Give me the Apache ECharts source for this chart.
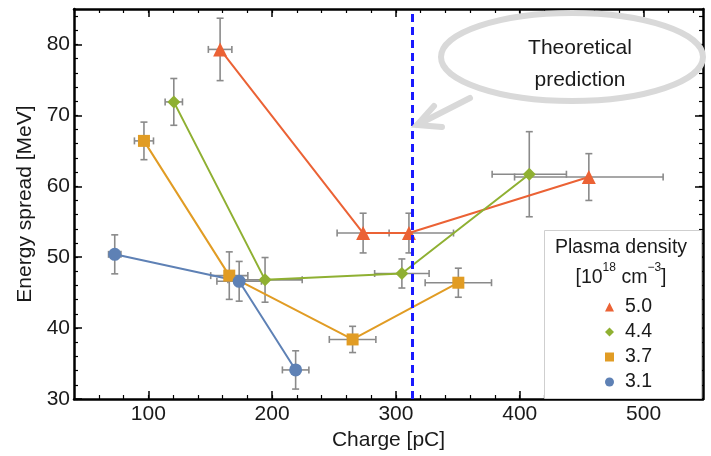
<!DOCTYPE html>
<html>
<head>
<meta charset="utf-8">
<script src="https://cdn.jsdelivr.net/npm/echarts@6/dist/echarts.min.js"></script>
<style>
  html, body { margin: 0; padding: 0; background: #fff; }
  #chart { width: 711px; height: 456px; }
</style>
</head>
<body>
<div id="chart"></div>
<script>
// Energy spread vs. bunch charge for four plasma densities (10^18 cm^-3)
const densityLabels = ['5.0', '4.4', '3.7', '3.1'];

const charge31 = [72.9, 173.4, 219.0];
const spread31 = [50.4, 46.6, 34.1];
const chargeErr31 = [5, 18, 10.7];
const spreadErr31 = [2.75, 2.8, 2.7];

const charge37 = [96.5, 165.4, 265.0, 350.4];
const spread37 = [66.4, 47.4, 38.4, 46.4];
const chargeErr37 = [7.7, 15, 18.8, 26.8];
const spreadErr37 = [2.65, 3.35, 1.85, 2.05];

const charge44 = [120.6, 194.3, 304.8, 407.7];
const spread44 = [71.9, 46.8, 47.7, 61.7];
const chargeErr44 = [7, 30, 22, 30];
const spreadErr44 = [3.3, 3.15, 2.05, 6.0];

const charge50 = [158.0, 273.5, 310.5, 455.8];
const spread50 = [79.3, 53.4, 53.4, 61.3];
const chargeErr50 = [9.5, 21, 36, 60];
const spreadErr50 = [4.4, 2.8, 2.8, 3.3];

// Predicted optimal charge
const theoryCharge = 313;

const xMajorTicks = [100, 200, 300, 400, 500];
const yMajorTicks = [30, 40, 50, 60, 70, 80];

const colors = {
  '5.0': '#EB6235',
  '4.4': '#8FB032',
  '3.7': '#E19C24',
  '3.1': '#5E81B5'
};
const symbols = { '5.0': 'triangle', '4.4': 'diamond', '3.7': 'rect', '3.1': 'circle' };
const symbolSizes = { '5.0': 14, '4.4': 13, '3.7': 12, '3.1': 13 };
const legendIconSizes = { '5.0': 9, '4.4': 9, '3.7': 7, '3.1': 9 };

const groups = {
  '5.0': [charge50, spread50, chargeErr50, spreadErr50],
  '4.4': [charge44, spread44, chargeErr44, spreadErr44],
  '3.7': [charge37, spread37, chargeErr37, spreadErr37],
  '3.1': [charge31, spread31, chargeErr31, spreadErr31]
};

const FONT = '"Liberation Sans", Arial, sans-serif';
const INK = '#1a1a1a';

function errorBarItem(params, api) {
  const x = api.value(0), y = api.value(1), ex = api.value(2), ey = api.value(3);
  const l = api.coord([x - ex, y]);
  const r = api.coord([x + ex, y]);
  const t = api.coord([x, y + ey]);
  const b = api.coord([x, y - ey]);
  const cap = 3.5;
  const style = { stroke: '#8a8a8a', lineWidth: 1.6 };
  const seg = (x1, y1, x2, y2) => ({ type: 'line', shape: { x1, y1, x2, y2 }, style });
  return {
    type: 'group',
    children: [
      seg(l[0], l[1], r[0], r[1]),
      seg(l[0], l[1] - cap, l[0], l[1] + cap),
      seg(r[0], r[1] - cap, r[0], r[1] + cap),
      seg(t[0], t[1], b[0], b[1]),
      seg(t[0] - cap, t[1], t[0] + cap, t[1]),
      seg(b[0] - cap, b[1], b[0] + cap, b[1])
    ]
  };
}

const series = [];
densityLabels.forEach(name => {
  const [xs, ys, exs, eys] = groups[name];
  series.push({
    name: name + ' err',
    type: 'custom',
    renderItem: errorBarItem,
    data: xs.map((x, i) => [x, ys[i], exs[i], eys[i]]),
    clip: true,
    z: 2,
    silent: true
  });
});
densityLabels.forEach(name => {
  const [xs, ys] = groups[name];
  const s = {
    name: name,
    type: 'line',
    data: xs.map((x, i) => [x, ys[i]]),
    symbol: symbols[name],
    symbolSize: symbolSizes[name],
    showAllSymbol: true,
    itemStyle: { color: colors[name], opacity: 1 },
    lineStyle: { color: colors[name], width: 2 },
    z: 3
  };
  if (name === '5.0') {
    s.markLine = {
      silent: true,
      symbol: ['none', 'none'],
      label: { show: false },
      lineStyle: { color: '#1a1aff', width: 3, type: [8, 5] },
      data: [{ xAxis: theoryCharge }]
    };
  }
  series.push(s);
});

const frameLine = { show: true, lineStyle: { color: '#000', width: 2.5 } };
const minorTick = { show: true, inside: true, length: 4, lineStyle: { color: '#000', width: 1.2 } };
const majorTick = (vals) => ({ show: true, inside: true, length: 8, customValues: vals, lineStyle: { color: '#000', width: 1.5 } });
const noLabel = { show: false };

const xBase = { type: 'value', min: 40, max: 548, splitLine: { show: false } };
const yBase = { type: 'value', min: 30, max: 85, splitLine: { show: false } };

const option = {
  animation: false,
  backgroundColor: '#fff',
  textStyle: { fontFamily: FONT },
  grid: { left: 74, right: 8, top: 9, bottom: 57 },
  xAxis: [
    Object.assign({}, xBase, {
      position: 'bottom', interval: 20,
      axisLine: frameLine, axisTick: minorTick,
      axisLabel: {
        formatter: v => (v % 100 === 0 ? String(v) : ''),
        fontSize: 21, color: INK, margin: 5, fontFamily: FONT,
        showMinLabel: false, showMaxLabel: false
      },
      name: 'Charge [pC]', nameLocation: 'middle', nameGap: 30,
      nameTextStyle: { fontSize: 21, color: INK, fontFamily: FONT }
    }),
    Object.assign({}, xBase, { position: 'bottom', axisLine: { show: false }, axisTick: majorTick(xMajorTicks), axisLabel: noLabel }),
    Object.assign({}, xBase, { position: 'top', interval: 20, axisLine: frameLine, axisTick: minorTick, axisLabel: noLabel }),
    Object.assign({}, xBase, { position: 'top', axisLine: { show: false }, axisTick: majorTick(xMajorTicks), axisLabel: noLabel })
  ],
  yAxis: [
    Object.assign({}, yBase, {
      position: 'left', interval: 2,
      axisLine: frameLine, axisTick: minorTick,
      axisLabel: {
        formatter: v => (v % 10 === 0 ? String(v) : ''),
        fontSize: 21, color: INK, margin: 4, fontFamily: FONT,
        showMaxLabel: false
      },
      name: 'Energy spread [MeV]', nameLocation: 'middle', nameGap: 32,
      nameTextStyle: { fontSize: 21, color: INK, fontFamily: FONT }
    }),
    Object.assign({}, yBase, { position: 'left', axisLine: { show: false }, axisTick: majorTick(yMajorTicks), axisLabel: noLabel }),
    Object.assign({}, yBase, { position: 'right', interval: 2, axisLine: frameLine, axisTick: minorTick, axisLabel: noLabel }),
    Object.assign({}, yBase, { position: 'right', axisLine: { show: false }, axisTick: majorTick(yMajorTicks), axisLabel: noLabel })
  ],
  legend: {
    orient: 'vertical',
    left: 600,
    top: 292,
    z: 10,
    itemWidth: 9,
    itemHeight: 9,
    itemGap: 5,
    selectedMode: false,
    textStyle: { fontSize: 19.5, color: INK, fontFamily: FONT, lineHeight: 20, padding: [0, 0, 0, 6] },
    data: densityLabels.map(n => ({
      name: n,
      icon: symbols[n],
      itemStyle: { color: colors[n] }
    }))
  },
  graphic: [
    // legend frame and heading
    {
      type: 'rect', z: 4,
      shape: { x: 544.5, y: 230.5, width: 157, height: 168 },
      style: { fill: '#fff', stroke: '#cfcfcf', lineWidth: 1 }
    },
    {
      type: 'text', z: 6, x: 621, y: 248,
      style: { text: 'Plasma density', font: '19.5px ' + FONT, fill: INK, align: 'center', verticalAlign: 'middle' }
    },
    {
      type: 'text', z: 6, x: 621, y: 275,
      style: {
        text: '{b|[10}{s|18}{b| cm}{s|\u22123}{b|]}',
        align: 'center', verticalAlign: 'middle',
        rich: {
          b: { font: '19.5px ' + FONT, fill: INK, lineHeight: 26, verticalAlign: 'bottom' },
          s: { font: '12px ' + FONT, fill: INK, lineHeight: 26, verticalAlign: 'top' }
        }
      }
    },
    // callout bubble pointing at the predicted charge
    {
      type: 'ellipse', z: 7,
      shape: { cx: 572, cy: 57, rx: 131, ry: 44 },
      style: { fill: '#fff', stroke: '#d9d9d9', lineWidth: 6 }
    },
    {
      type: 'polyline', z: 6,
      shape: { points: [[470, 98], [417, 125]] },
      style: { stroke: '#d9d9d9', lineWidth: 6, lineCap: 'round' }
    },
    {
      type: 'polyline', z: 6,
      shape: { points: [[434, 106], [417, 125], [442, 127]] },
      style: { stroke: '#d9d9d9', lineWidth: 6, lineCap: 'round', lineJoin: 'miter', fill: null }
    },
    {
      type: 'text', z: 8, x: 580, y: 64,
      style: {
        text: 'Theoretical\nprediction', font: '21px ' + FONT, fill: INK,
        align: 'center', verticalAlign: 'middle', lineHeight: 32
      }
    }
  ],
  series: series
};

const chart = echarts.init(document.getElementById('chart'), null, { renderer: 'canvas' });
chart.setOption(option);
</script>
</body>
</html>
